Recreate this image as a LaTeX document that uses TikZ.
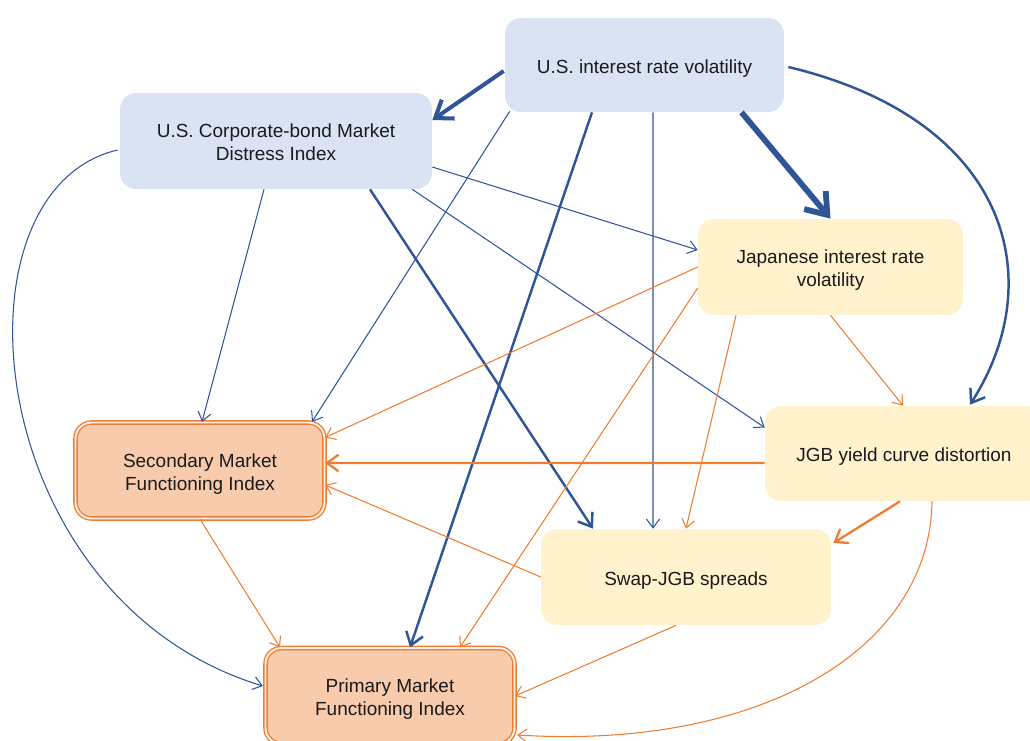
\documentclass[tikz,border=0pt]{standalone}
\usepackage{fontspec}
\setmainfont{Liberation Sans}
\usetikzlibrary{arrows.meta,calc}
\definecolor{bl}{HTML}{2F5597}
\definecolor{blfill}{HTML}{DAE3F3}
\definecolor{yfill}{HTML}{FFF2CC}
\definecolor{og}{HTML}{ED7D31}
\definecolor{ofill}{HTML}{F8CBAD}
\definecolor{txt}{HTML}{1A1A1A}
\newcommand\topstr{\rule{0pt}{12pt}}
\newcommand\botstr{\rule[-2.5pt]{0pt}{2.5pt}}
\tikzset{
  box/.style={rounded corners=0.32cm, inner sep=0pt, align=center, text=txt,
    font=\fontsize{10.8}{13.1}\selectfont},
  bluebox/.style={box, fill=blfill},
  yelbox/.style={box, fill=yfill},
  orbox/.style={box, fill=ofill, draw=og, line width=0.75pt, double=white!70!ofill, double distance=1.1pt},
  thinb/.style={draw=bl, line width=0.6pt, -{Straight Barb[length=5pt,width=7.5pt]}},
  medb/.style={draw=bl, line width=1.4pt, -{Straight Barb[length=7pt,width=10pt]}},
  thickb/.style={draw=bl, line width=2.3pt, -{Straight Barb[length=9pt,width=13pt]}},
  hugeb/.style={draw=bl, line width=3.3pt, -{Straight Barb[length=11pt,width=16pt]}},
  thino/.style={draw=og, line width=0.6pt, -{Straight Barb[length=5pt,width=7.5pt]}},
  medo/.style={draw=og, line width=1.3pt, -{Straight Barb[length=6.5pt,width=9.5pt]}},
}
\begin{document}
\begin{tikzpicture}[x=0.02cm,y=-0.02cm]
\useasboundingbox (0,0) rectangle (1030,740);

\node[bluebox, minimum width=5.58cm, minimum height=1.88cm] (usirv) at (644.5,65) {\topstr U.S. interest rate volatility\botstr};
\node[bluebox, minimum width=6.24cm, minimum height=1.92cm] (uscorp) at (276,141) {\topstr U.S. Corporate-bond Market\\Distress Index\botstr};
\node[yelbox, minimum width=5.3cm, minimum height=1.92cm] (jirv) at (830.5,267) {\topstr Japanese interest rate\\volatility\botstr};
\node[yelbox, minimum width=5.56cm, minimum height=1.9cm] (jgb) at (904,453.5) {\topstr JGB yield curve distortion\botstr};
\node[yelbox, minimum width=5.8cm, minimum height=1.92cm] (swap) at (686,577) {\topstr Swap-JGB spreads\botstr};
\node[orbox, minimum width=4.98cm, minimum height=1.92cm] (sec) at (200,470.5) {\topstr Secondary Market\\Functioning Index\botstr};
\node[orbox, minimum width=4.98cm, minimum height=1.92cm] (prim) at (390,696) {\topstr Primary Market\\Functioning Index\botstr};

% from U.S. interest rate volatility
\draw[thickb] ($(usirv.west)+(-1,6)$) -- ($(uscorp.east)+(0,-21)$);
\draw[hugeb] ($(usirv.south)+(97,0)$) -- (jirv.north);
\draw[medb] ($(usirv.east)+(4,2)$) .. controls (1010,120) and (1050,280) .. ($(jgb.north)+(66,-1)$);
\draw[thinb] ($(usirv.south west)+(5,-1)$) -- ($(sec.north)+(112,0)$);
\draw[medb] ($(usirv.south)+(-52.5,0)$) -- ($(prim.north)+(20,0)$);
\draw[thinb] ($(usirv.south)+(8.5,0)$) -- ($(swap.north)+(-33,0)$);

% from U.S. Corporate-bond Market Distress Index
\draw[thinb] ($(uscorp.south)+(-12,0)$) -- ($(sec.north)+(2,0)$);
\draw[medb] ($(uscorp.south)+(94,0)$) -- ($(swap.north)+(-93,0)$);
\draw[thinb] ($(uscorp.east)+(0,26)$) -- ($(jirv.west)+(0,-17)$);
\draw[thinb] ($(uscorp.south east)+(-20,0)$) -- ($(jgb.west)+(0,-26)$);
\draw[thinb] ($(uscorp.west)+(-2,9)$) .. controls (-55,190) and (-20,600) .. ($(prim.west)+(-2,-10)$);

% from Japanese interest rate volatility
\draw[thino] (jirv.west) -- ($(sec.east)+(0,-33)$);
\draw[thino] ($(jirv.west)+(0,21)$) -- ($(prim.north)+(70,0)$);
\draw[thino] ($(jirv.south)+(-94.5,0)$) -- (swap.north);
\draw[thino] (jirv.south) -- ($(jgb.north)+(-1,0)$);

% from JGB yield curve distortion
\draw[medo] ($(jgb.west)+(0,9.5)$) -- ($(sec.east)+(0,-7.5)$);
\draw[medo] ($(jgb.south)+(-4,0)$) -- ($(swap.east)+(2,-34)$);
\draw[thino] ($(jgb.south)+(28,0)$) .. controls (930,650) and (760,750) .. ($(prim.east)+(2,39)$);

% from Swap-JGB spreads
\draw[thino] (swap.west) -- ($(sec.east)+(0,14.5)$);
\draw[thino] ($(swap.south)+(-10,0)$) -- (prim.east);

% from Secondary Market Functioning Index
\draw[thino] (sec.south) -- ($(prim.north)+(-110,0)$);
\end{tikzpicture}
\end{document}
